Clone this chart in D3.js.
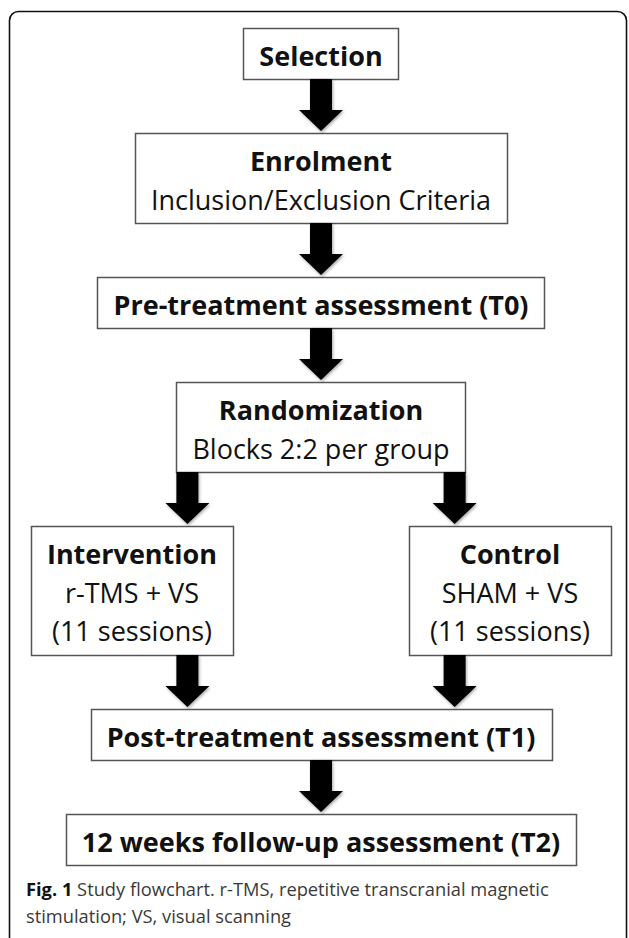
<!DOCTYPE html>
<html>
<head>
<meta charset="utf-8">
<script src="https://cdn.jsdelivr.net/npm/d3@7/dist/d3.min.js"></script>
<style>
  html, body { margin: 0; padding: 0; background: #fff; }
  svg { display: block; }
</style>
</head>
<body>
<div class="flow"></div>
<script>
(function() {

	var width = 629
	var height = 938

	// flowchart content
	var steps = ["Selection", "Enrolment", "Pre-treatment assessment (T0)", "Randomization",
				 "Intervention", "Control", "Post-treatment assessment (T1)", "12 weeks follow-up assessment (T2)"];
	var details = [[], ["Inclusion/Exclusion Criteria"], [], ["Blocks 2:2 per group"],
				   ["r-TMS + VS", "(11 sessions)"], ["SHAM + VS", "(11 sessions)"], [], []];
	var columns = ["mid", "mid", "mid", "mid", "left", "right", "mid", "mid"];
	var levels = [0, 1, 2, 3, 4, 4, 5, 6];
	var links = [[0, 1], [1, 2], [2, 3], [3, 4], [3, 5], [4, 6], [5, 6], [6, 7]];

	var captionLabel = "Fig. 1";
	var captionLines = ["Study flowchart. r-TMS, repetitive transcranial magnetic",
						"stimulation; VS, visual scanning"];

	var font = "'Open Sans', 'DejaVu Sans', sans-serif"
	var fontSize = 27
	var lineStep = 38.5
	var padX = 16
	var gap = 54
	var shaft = 11, head = 22, headLen = 21

	var xScale = d3.scalePoint()
				   .domain(["left", "mid", "right"])
				   .range([132, 510])

	var svg = d3.select(".flow")
				.append("svg")
				.attr("width", width)
				.attr("height", height)

	var defs = svg.append("defs")
	var shadow = defs.append("filter")
					 .attr("id", "shade")
					 .attr("x", "-30%").attr("y", "-30%")
					 .attr("width", "160%").attr("height", "160%")
	shadow.append("feDropShadow")
		  .attr("dx", 1).attr("dy", 1.5)
		  .attr("stdDeviation", 1.6)
		  .attr("flood-color", "#000")
		  .attr("flood-opacity", 0.35)

	// outer frame (bottom runs off the page)
	svg.append("rect")
	   .attr("x", 9.5)
	   .attr("y", 11.5)
	   .attr("width", 617)
	   .attr("height", 940)
	   .attr("rx", 9)
	   .attr("fill", "none")
	   .attr("stroke", "#111")
	   .attr("stroke-width", 1.6)

	var nodes = steps.map(function(s, i) {
		return { title: s, lines: details[i], col: columns[i], level: levels[i] };
	});

	// heights per level
	var nLevels = d3.max(levels) + 1
	var levelH = d3.range(nLevels).map(function(l) {
		var n = d3.max(nodes.filter(function(d) { return d.level === l; }), function(d) { return 1 + d.lines.length; });
		return 12 + 39 * n;
	});
	var levelY = [];
	var yy = 28;
	levelH.forEach(function(h, l) {
		levelY[l] = yy;
		yy += h + gap;
	});

	var boxes = svg.append("g")
				   .selectAll("g")
				   .data(nodes)
				   .enter()
				   .append("g")

	var rects = boxes.append("rect")
					 .attr("fill", "#fff")
					 .attr("stroke", "#555")
					 .attr("stroke-width", 1.5)

	boxes.each(function(d) {
		var g = d3.select(this);
		var all = [d.title].concat(d.lines);
		var cx = xScale(d.col);
		var top = levelY[d.level];
		all.forEach(function(t, k) {
			g.append("text")
			 .text(t)
			 .attr("x", cx)
			 .attr("y", top + 38 + k * lineStep)
			 .attr("text-anchor", "middle")
			 .attr("font-family", font)
			 .attr("font-size", fontSize + "px")
			 .attr("font-weight", k === 0 ? "bold" : "normal")
			 .attr("fill", "#111")
		});
		var w = 0;
		g.selectAll("text").each(function() { w = Math.max(w, this.getComputedTextLength()); });
		d.textW = w;
	});

	// side boxes share one width
	var sideW = d3.max(nodes.filter(function(d) { return d.col !== "mid"; }), function(d) { return d.textW; });
	nodes.forEach(function(d) {
		var w = (d.col === "mid" ? d.textW : sideW) + padX * 2;
		d.x0 = xScale(d.col) - w / 2;
		d.x1 = xScale(d.col) + w / 2;
		d.y0 = levelY[d.level];
		d.y1 = d.y0 + levelH[d.level];
	});

	rects.attr("x", function(d) { return Math.round(d.x0) + 0.5; })
		 .attr("y", function(d) { return d.y0 + 0.5; })
		 .attr("width", function(d) { return Math.round(d.x1 - d.x0); })
		 .attr("height", function(d) { return d.y1 - d.y0; })

	// arrows
	var lanes = {};
	var arrowData = links.map(function(l) {
		var a = nodes[l[0]], b = nodes[l[1]];
		var x;
		if (a.col === "mid" && b.col === "mid") x = xScale("mid");
		else if (a.col === "mid") {
			x = b.col === "left" ? a.x0 + shaft : a.x1 - shaft;
			lanes[b.col] = x;
		}
		else x = lanes[a.col];
		return { x: x, y: a.y1 };
	});

	svg.append("g")
	   .selectAll("path")
	   .data(arrowData)
	   .enter()
	   .append("path")
	   .attr("d", function(d) {
		   var p = d3.path();
		   p.moveTo(d.x - shaft, d.y);
		   p.lineTo(d.x + shaft, d.y);
		   p.lineTo(d.x + shaft, d.y + gap - 2 - headLen);
		   p.lineTo(d.x + head, d.y + gap - 2 - headLen);
		   p.lineTo(d.x, d.y + gap - 2);
		   p.lineTo(d.x - head, d.y + gap - 2 - headLen);
		   p.lineTo(d.x - shaft, d.y + gap - 2 - headLen);
		   p.closePath();
		   return p.toString();
	   })
	   .attr("fill", "#000")
	   .attr("filter", "url(#shade)")

	// caption
	var cap = svg.append("g")
				 .attr("font-family", font)
				 .attr("font-size", "18.3px")

	var first = cap.append("text")
				   .attr("x", 26)
				   .attr("y", 896)
	first.append("tspan")
		 .text(captionLabel)
		 .attr("font-weight", "bold")
		 .attr("fill", "#111")
	first.append("tspan")
		 .text(" " + captionLines[0])
		 .attr("fill", "#3a3a3a")

	cap.append("text")
	   .attr("x", 26)
	   .attr("y", 923)
	   .attr("fill", "#3a3a3a")
	   .text(captionLines[1])

}())
</script>
</body>
</html>
